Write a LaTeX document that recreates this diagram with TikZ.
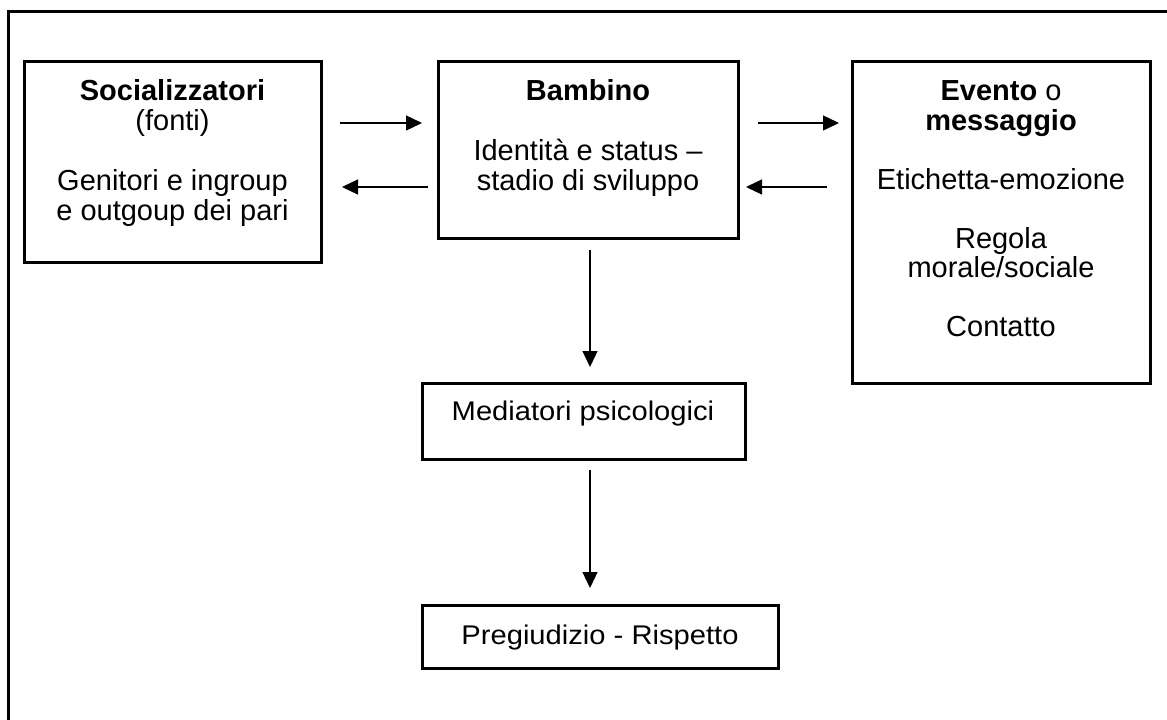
\documentclass[tikz,border=0pt]{standalone}
\usepackage{fontspec}
\setmainfont{Liberation Sans}
\newfontfamily\lowfont[FakeStretch=1.08]{Liberation Sans}
\usetikzlibrary{arrows.meta}
\begin{document}
\begin{tikzpicture}[x=1pt,y=-1pt,
  box/.style={draw,line width=3pt,inner sep=0pt,outer sep=0pt},
  txt/.style={anchor=base,inner sep=0pt,font=\fontsize{29}{30}\selectfont},
  lowtxt/.style={anchor=base,inner sep=0pt,font=\lowfont\fontsize{27}{30}\selectfont},
  arr/.style={line width=1.3pt,-{Triangle[length=16pt,width=15pt]}},
  frame/.style={line width=3pt}]
\useasboundingbox (0,0) rectangle (1167,720);
\draw[frame] (8,720) -- (8,11) -- (1167,11);

\node[box,minimum width=297,minimum height=201] (soc) at (172.5,161.5) {};
\node[box,minimum width=300,minimum height=177] (bam) at (588,149.5) {};
\node[box,minimum width=298,minimum height=322] (evt) at (1001,222) {};
\node[box,minimum width=323,minimum height=76] (med) at (583.5,421) {};
\node[box,minimum width=356,minimum height=63] (pre) at (600,636.5) {};

\node[txt] (s1) at (172.5,100) {\textbf{Socializzatori}};
\node[txt] (s2) at (172.5,130) {(fonti)};
\node[txt] (s3) at (172.5,190) {Genitori e ingroup};
\node[txt] (s4) at (172.5,220) {e outgoup dei pari};

\node[txt] (b1) at (588,100) {\textbf{Bambino}};
\node[txt] (b2) at (588,160) {Identità e status –};
\node[txt] (b3) at (588,190) {stadio di sviluppo};

\node[txt] (e1) at (1001,100) {\textbf{Evento} o};
\node[txt] (e2) at (1001,130) {\textbf{messaggio}};
\node[txt] (e3) at (1001,189) {Etichetta-emozione};
\node[txt] (e4) at (1001,248) {Regola};
\node[txt] (e5) at (1001,277) {morale/sociale};
\node[txt] (e6) at (1001,336) {Contatto};

\node[lowtxt] (m1) at (583,420) {Mediatori psicologici};
\node[lowtxt] (p1) at (600,644) {Pregiudizio - Rispetto};

\coordinate (a1s) at (340,123); \coordinate (a1e) at (422,123);
\coordinate (a2s) at (428,187); \coordinate (a2e) at (342,187);
\coordinate (a3s) at (758,123); \coordinate (a3e) at (839,123);
\coordinate (a4s) at (827,187); \coordinate (a4e) at (746,187);
\coordinate (a5s) at (590,250); \coordinate (a5e) at (590,367);
\coordinate (a6s) at (590,470); \coordinate (a6e) at (590,588);

\draw[arr] (a1s) -- (a1e);
\draw[arr] (a2s) -- (a2e);
\draw[arr] (a3s) -- (a3e);
\draw[arr] (a4s) -- (a4e);
\draw[arr] (a5s) -- (a5e);
\draw[arr] (a6s) -- (a6e);
\end{tikzpicture}
\end{document}
